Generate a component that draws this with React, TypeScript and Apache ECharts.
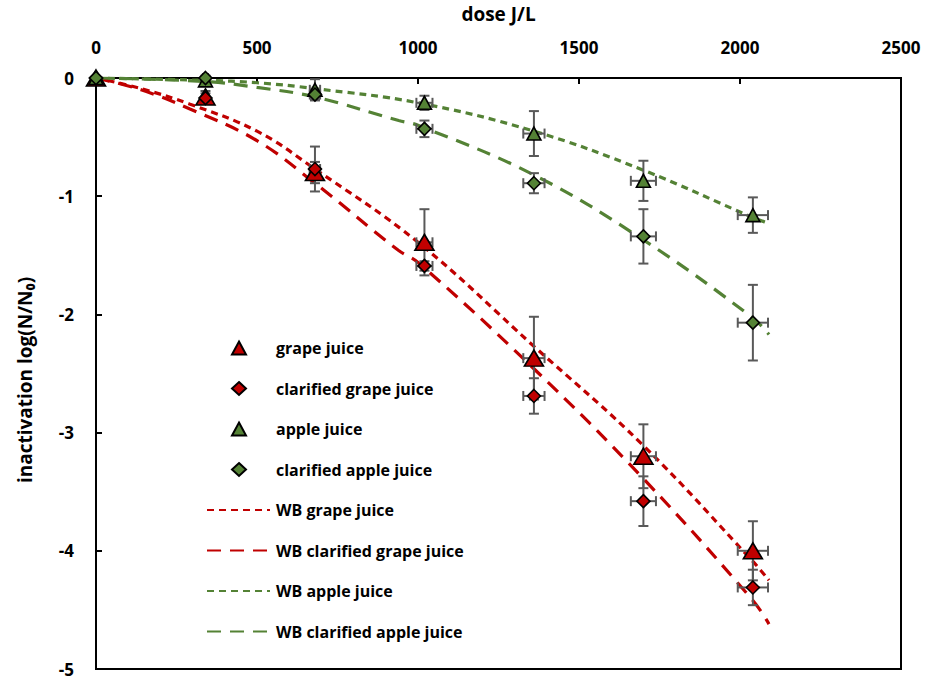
import React, { useEffect, useRef } from "react";
import * as echarts from "echarts";

// ---- data ----
const doses = [0, 340, 680, 1020, 1360, 1700, 2040];
const doseErr = [0, 8, 16, 25, 33, 39, 47];

const grapeJuice = [0, -0.16, -0.8, -1.39, -2.37, -3.2, -4.0];
const grapeJuiceErr = [0, 0.05, 0.09, 0.28, 0.35, 0.27, 0.25];
const clarGrape = [0, -0.17, -0.77, -1.59, -2.69, -3.58, -4.31];
const clarGrapeErr = [0, 0.04, 0.19, 0.04, 0.15, 0.21, 0.15];
const appleJuice = [0, -0.02, -0.1, -0.21, -0.47, -0.87, -1.16];
const appleJuiceErr = [0, 0.02, 0.09, 0.06, 0.19, 0.17, 0.15];
const clarApple = [0, 0, -0.14, -0.43, -0.89, -1.34, -2.07];
const clarAppleErr = [0, 0.02, 0.04, 0.07, 0.085, 0.23, 0.32];

// Weibull model curves
const wbGrapeX = [0, 140, 290, 500, 680, 1000, 1360, 1700, 2040, 2090];
const wbGrapeY = [0, -0.09, -0.22, -0.45, -0.77, -1.39, -2.27, -3.11, -4.09, -4.25];
const wbClarGrapeX = [0, 140, 290, 500, 680, 940, 1000, 1360, 1700, 2040, 2090];
const wbClarGrapeY = [0, -0.1, -0.26, -0.53, -0.89, -1.46, -1.56, -2.46, -3.39, -4.42, -4.62];
const wbAppleX = [0, 340, 500, 680, 1000, 1360, 1700, 2040, 2090];
const wbAppleY = [0, -0.02, -0.04, -0.09, -0.21, -0.45, -0.78, -1.18, -1.23];
const wbClarAppleX = [0, 340, 500, 680, 940, 1000, 1360, 1700, 2040, 2090];
const wbClarAppleY = [0, -0.03, -0.08, -0.16, -0.36, -0.4, -0.82, -1.37, -2.03, -2.17];

const xTicks = { min: 0, max: 2500, interval: 500 };
const yTicks = { min: -5, max: 0, interval: 1 };

const markerNames = ["grape juice", "clarified grape juice", "apple juice", "clarified apple juice"];
const lineNames = ["WB grape juice", "WB clarified grape juice", "WB apple juice", "WB clarified apple juice"];

const RED = "#C00000";
const GREEN = "#548235";
const FONT = "'Open Sans', 'Noto Sans', sans-serif";

const pairs = (xs: number[], ys: number[]) => xs.map((x, i) => [x, ys[i]]);
const errData = (ys: number[], yes: number[]) =>
  doses.map((x, i) => [x, ys[i], doseErr[i], yes[i]]);

function errRender(params: any, api: any) {
  const x = api.value(0);
  const y = api.value(1);
  const xe = api.value(2);
  const ye = api.value(3);
  const style = { stroke: "#595959", lineWidth: 2 };
  const cap = 5;
  const children: any[] = [];
  if (ye > 0) {
    const t = api.coord([x, y + ye]);
    const b = api.coord([x, y - ye]);
    children.push({ type: "line", shape: { x1: t[0], y1: t[1], x2: b[0], y2: b[1] }, style });
    children.push({ type: "line", shape: { x1: t[0] - cap, y1: t[1], x2: t[0] + cap, y2: t[1] }, style });
    children.push({ type: "line", shape: { x1: b[0] - cap, y1: b[1], x2: b[0] + cap, y2: b[1] }, style });
  }
  if (xe > 0) {
    const l = api.coord([x - xe, y]);
    const r = api.coord([x + xe, y]);
    children.push({ type: "line", shape: { x1: l[0], y1: l[1], x2: r[0], y2: r[1] }, style });
    children.push({ type: "line", shape: { x1: l[0], y1: l[1] - cap, x2: l[0], y2: l[1] + cap }, style });
    children.push({ type: "line", shape: { x1: r[0], y1: r[1] - cap, x2: r[0], y2: r[1] + cap }, style });
  }
  return { type: "group", children };
}

export default function App() {
  const ref = useRef<HTMLDivElement>(null);
  useEffect(() => {
    if (!ref.current) return;
    const chart = echarts.init(ref.current, null, { renderer: "svg" });
    const markerBorder = { borderColor: "#000", borderWidth: 1.6, opacity: 1 };
    const errSeries = (name: string, ys: number[], yes: number[]) => ({
      name,
      type: "custom",
      renderItem: errRender,
      data: errData(ys, yes),
      encode: { x: 0, y: 1 },
      clip: false,
      z: 3,
      silent: true,
    });
    const scatter = (name: string, ys: number[], symbol: string, size: number | number[], color: string, z: number) => ({
      name,
      type: "scatter",
      symbol,
      symbolSize: size,
      data: pairs(doses, ys),
      itemStyle: { color, ...markerBorder },
      clip: false,
      z,
    });
    const line = (name: string, xs: number[], ys: number[], color: string, dash: number[]) => ({
      name,
      type: "line",
      data: pairs(xs, ys),
      smooth: 0.4,
      showSymbol: false,
      symbol: "none",
      lineStyle: { color, width: 3.2, type: dash },
      itemStyle: { color },
      z: 2,
      silent: true,
    });
    const legendText = { fontFamily: FONT, fontWeight: "bold", fontSize: 16, color: "#000", lineHeight: 20 };
    const titleStyle = { fontFamily: FONT, fontWeight: "bold", fontSize: 19, color: "#000" };
    const tickLabel = {
      color: "#000",
      fontFamily: FONT,
      fontWeight: "bold",
      fontSize: 17,
      margin: 22,
      formatter: (v: number) => String(v),
    };
    chart.setOption({
      animation: false,
      backgroundColor: "#fff",
      grid: {
        left: 96,
        right: 34,
        top: 78,
        bottom: 10,
        show: true,
        borderColor: "#000",
        borderWidth: 2,
        backgroundColor: "transparent",
        outerBoundsMode: "none",
      },
      legend: [
        {
          orient: "vertical",
          left: 231,
          top: 338,
          padding: 0,
          itemWidth: 14,
          itemHeight: 13,
          itemGap: 20.5,
          textStyle: { ...legendText, padding: [0, 0, 0, 25] },
          data: markerNames,
        },
        {
          orient: "vertical",
          left: 206,
          top: 338 + 4 * 40.5,
          padding: 0,
          itemWidth: 63,
          itemHeight: 13,
          itemGap: 20.5,
          itemStyle: { color: "rgba(0,0,0,0)", borderWidth: 0, opacity: 0 },
          textStyle: { ...legendText, padding: [0, 0, 0, 1] },
          data: lineNames,
        },
      ],
      xAxis: {
        type: "value",
        position: "top",
        ...xTicks,
        name: "dose J/L",
        nameLocation: "middle",
        nameGap: 55,
        nameTextStyle: titleStyle,
        axisLine: { show: true, onZero: false, lineStyle: { color: "#000", width: 2 } },
        axisTick: { show: true, inside: true, length: 6, lineStyle: { color: "#000", width: 2 } },
        axisLabel: tickLabel,
        splitLine: { show: false },
      },
      yAxis: {
        type: "value",
        ...yTicks,
        name: "inactivation log(N/N₀)",
        nameLocation: "middle",
        nameGap: 62,
        nameRotate: 90,
        nameTextStyle: { ...titleStyle, padding: [0, 13, 0, 0] },
        axisLine: { show: true, onZero: false, lineStyle: { color: "#000", width: 2 } },
        axisTick: { show: true, inside: true, length: 6, lineStyle: { color: "#000", width: 2 } },
        axisLabel: tickLabel,
        splitLine: { show: false },
      },
      series: [
        line(lineNames[0], wbGrapeX, wbGrapeY, RED, [7, 5]),
        line(lineNames[1], wbClarGrapeX, wbClarGrapeY, RED, [14, 9]),
        line(lineNames[2], wbAppleX, wbAppleY, GREEN, [7, 5]),
        line(lineNames[3], wbClarAppleX, wbClarAppleY, GREEN, [14, 9]),
        errSeries("err grape", grapeJuice, grapeJuiceErr),
        errSeries("err clarified grape", clarGrape, clarGrapeErr),
        errSeries("err apple", appleJuice, appleJuiceErr),
        errSeries("err clarified apple", clarApple, clarAppleErr),
        scatter(markerNames[0], grapeJuice, "triangle", [19, 16], RED, 5),
        scatter(markerNames[1], clarGrape, "diamond", 13, RED, 6),
        scatter(markerNames[2], appleJuice, "triangle", [14, 13], GREEN, 7),
        scatter(markerNames[3], clarApple, "diamond", 13, GREEN, 8),
      ],
    });
    return () => chart.dispose();
  }, []);
  return (
    <div
      ref={ref}
      style={{ position: "absolute", left: 0, top: 0, width: 935, height: 679 }}
    />
  );
}
